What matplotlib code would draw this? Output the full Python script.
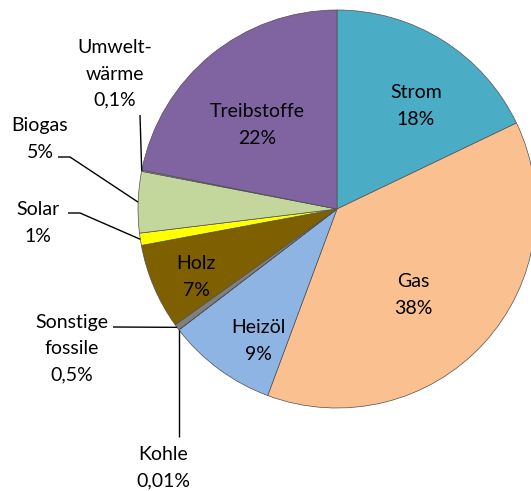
import numpy as np
import matplotlib.pyplot as plt

plt.rcParams['font.family'] = ['Lato', 'DejaVu Sans']

labels = ["Strom", "Gas", "Heizöl", "Kohle", "Sonstige\nfossile", "Holz",
          "Solar", "Biogas", "Umwelt-\nwärme", "Treibstoffe"]
pct_text = ["18%", "38%", "9%", "0,01%", "0,5%", "7%", "1%", "5%", "0,1%", "22%"]
shares = [18, 38, 9, 0.01, 0.5, 7, 1, 5, 0.1, 22]
colors = ["#4BACC6", "#FAC090", "#8EB4E3", "#404040", "#7F7F7F", "#7F6000",
          "#FFFF00", "#C3D69B", "#A0A0A0", "#8064A2"]

W, H = 531, 491
fig = plt.figure(figsize=(W / 100, H / 100), dpi=100)
ax = fig.add_axes([0, 0, 1, 1])

cx, cy, R = 337, H - 209, 199
wedges, _ = ax.pie(shares, colors=colors, startangle=90, counterclock=False,
                   center=(cx, cy), radius=R, frame=True,
                   wedgeprops=dict(edgecolor="#505050", linewidth=0.5))
ax.set_xlim(0, W)
ax.set_ylim(0, H)
ax.set_aspect('equal')
ax.axis('off')

fs = 14
ls = 1.65

# labels inside the slices (image pixel positions)
inside = {0: (416, 106), 1: (413, 295), 2: (258, 341), 5: (196, 277), 9: (257, 125)}
for i, (x, y) in inside.items():
    ax.text(x, H - y, labels[i] + "\n" + pct_text[i], ha='center', va='center',
            fontsize=fs, linespacing=ls)


def edge_point(i, frac=0.5):
    w = wedges[i]
    a = np.deg2rad(w.theta1 + frac * (w.theta2 - w.theta1))
    return cx + R * np.cos(a), cy + R * np.sin(a)


def leader(pts):
    xs = [p[0] for p in pts]
    ys = [p[1] for p in pts]
    ax.plot(xs, ys, color='black', lw=1.0, solid_capstyle='butt')


# outside labels with leader lines
# Umweltwärme
ax.text(115, H - 74, labels[8] + "\n" + pct_text[8], ha='center', va='center',
        fontsize=fs, linespacing=ls)
leader([(140, H - 115), edge_point(8)])

# Biogas
ax.text(40, H - 139, labels[7] + "\n" + pct_text[7], ha='center', va='center',
        fontsize=fs, linespacing=ls)
leader([(58, H - 157), (70, H - 157), edge_point(7)])

# Solar
ax.text(38, H - 223, labels[6] + "\n" + pct_text[6], ha='center', va='center',
        fontsize=fs, linespacing=ls)
leader([(68, H - 213), (80, H - 213), edge_point(6)])

# Sonstige fossile
ax.text(72, H - 349, labels[4] + "\n" + pct_text[4], ha='center', va='center',
        fontsize=fs, linespacing=ls)
leader([(113, H - 327), edge_point(4)])

# Kohle
ax.text(163, H - 468, labels[3] + "\n" + pct_text[3], ha='center', va='center',
        fontsize=fs, linespacing=ls)
kx, ky = edge_point(3)
leader([(kx, H - 437), (kx, ky)])

fig.savefig("out.png", dpi=100)
